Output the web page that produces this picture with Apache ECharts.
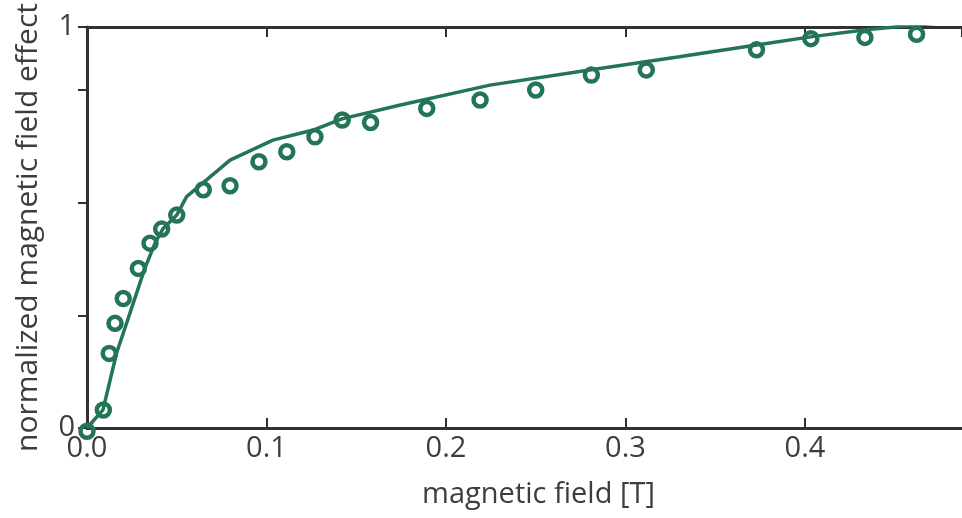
<!DOCTYPE html>
<html>
<head>
<meta charset="utf-8">
<script src="https://cdn.jsdelivr.net/npm/echarts@6/dist/echarts.min.js"></script>
<style>
  html, body { margin: 0; padding: 0; background: #ffffff; }
  #chart { width: 962px; height: 518px; }
</style>
</head>
<body>
<div id="chart"></div>
<script>
// Measured field values [T] and normalized effect
const fieldMeasured = [0, 0.0091, 0.0124, 0.0156, 0.0202, 0.0286, 0.0351, 0.0416, 0.050, 0.0648,
  0.0797, 0.0958, 0.1113, 0.127, 0.1422, 0.158, 0.1893, 0.219, 0.250, 0.281,
  0.3116, 0.373, 0.4033, 0.4334, 0.4622];
const effectMeasured = [-0.008, 0.045, 0.186, 0.261, 0.323, 0.398, 0.461, 0.496, 0.531, 0.594,
  0.604, 0.664, 0.689, 0.726, 0.768, 0.762, 0.797, 0.818, 0.843, 0.880,
  0.893, 0.943, 0.971, 0.974, 0.982];

// Model curve
const fieldModel = [0, 0.0089, 0.0165, 0.0221, 0.0267, 0.0323, 0.0379, 0.0422, 0.050, 0.0555,
  0.0797, 0.1036, 0.126, 0.142, 0.174, 0.2245, 0.280, 0.330, 0.373, 0.404,
  0.434, 0.462, 0.4875];
const effectModel = [0, 0.045, 0.187, 0.262, 0.324, 0.399, 0.461, 0.496, 0.531, 0.577,
  0.668, 0.718, 0.743, 0.771, 0.805, 0.855, 0.893, 0.926, 0.955, 0.976,
  0.993, 1.005, 1.015];

const xTickStep = 0.1;
const xMax = 0.4875;
const yTickLabels = ['0', '1'];

const green = '#237556';
const axisColor = '#303036';
const textColor = '#3c3c42';
const font = 'Open Sans';

const chart = echarts.init(document.getElementById('chart'), null, { renderer: 'canvas' });

const zip = (xs, ys) => xs.map((x, i) => [x, ys[i]]);

chart.setOption({
  backgroundColor: '#ffffff',
  animation: false,
  grid: { left: 87, right: 0, top: 27, bottom: 90, containLabel: false },
  xAxis: [
    {
      type: 'value', position: 'bottom', min: 0, max: xMax, interval: xTickStep,
      name: 'magnetic field [T]', nameLocation: 'middle', nameGap: 52,
      nameTextStyle: { fontFamily: font, fontSize: 29, color: textColor, padding: [0, 0, 0, 28] },
      axisLine: { show: true, onZero: false, lineStyle: { color: axisColor, width: 3 } },
      axisTick: { show: true, inside: true, length: 10, lineStyle: { color: axisColor, width: 2 } },
      axisLabel: {
        margin: 6, fontFamily: font, fontSize: 29, color: textColor,
        showMaxLabel: false,
        formatter: v => v.toFixed(1)
      },
      splitLine: { show: false }
    },
    {
      type: 'value', position: 'top', min: 0, max: xMax, interval: xTickStep,
      axisLine: { show: true, onZero: false, lineStyle: { color: axisColor, width: 3 } },
      axisTick: { show: true, inside: true, length: 10, lineStyle: { color: axisColor, width: 2 } },
      axisLabel: { show: false },
      splitLine: { show: false }
    }
  ],
  yAxis: [
    {
      type: 'value', position: 'left', min: 0, max: 1, interval: 1,
      name: 'normalized magnetic field effect', nameLocation: 'middle', nameGap: 44,
      nameTextStyle: { fontFamily: font, fontSize: 30, color: textColor },
      axisLine: { show: true, onZero: false, lineStyle: { color: axisColor, width: 3 } },
      axisTick: { show: false },
      axisLabel: {
        margin: 12, fontFamily: font, fontSize: 29, color: textColor,
        formatter: v => yTickLabels[Math.round(v)]
      },
      splitLine: { show: false }
    },
    {
      type: 'value', position: 'right', min: 0, max: 3.56, interval: 1,
      axisLine: { show: false },
      axisTick: { show: true, inside: true, length: 9, lineStyle: { color: axisColor, width: 2 } },
      axisLabel: { show: false },
      splitLine: { show: false }
    }
  ],
  series: [
    {
      type: 'line', xAxisIndex: 0, yAxisIndex: 0,
      data: zip(fieldModel, effectModel),
      showSymbol: false, symbol: 'none', clip: true,
      lineStyle: { color: green, width: 3.5 },
      z: 2
    },
    {
      type: 'scatter', xAxisIndex: 0, yAxisIndex: 0,
      data: zip(fieldMeasured, effectMeasured),
      symbol: 'circle', symbolSize: 13, clip: false,
      itemStyle: { color: 'rgba(0,0,0,0)', borderColor: green, borderWidth: 4.5, opacity: 1 },
      z: 3
    }
  ]
});
</script>
</body>
</html>
